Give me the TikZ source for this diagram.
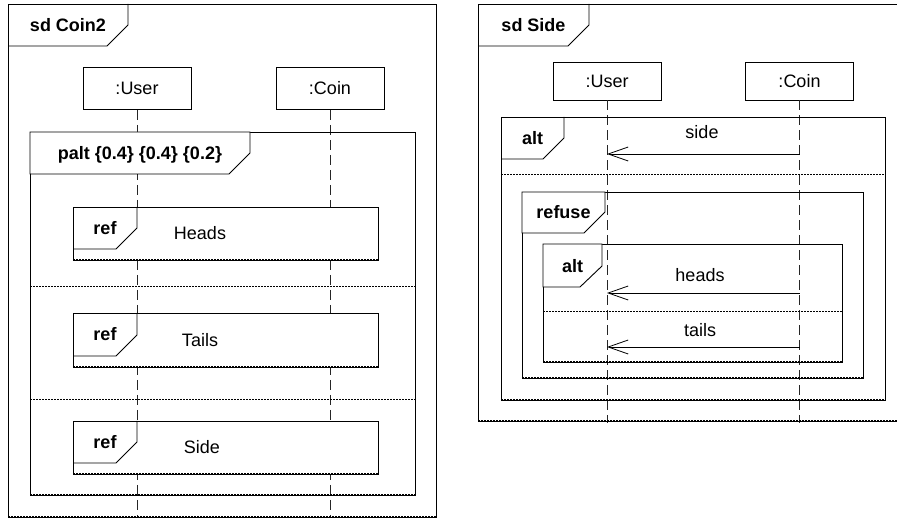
\documentclass[tikz,border=0pt]{standalone}
\usepackage{fontspec}
\setmainfont{Liberation Sans}
\usetikzlibrary{arrows.meta}

\tikzset{
  frameline/.style={draw=black, line width=0.9pt},
  bottomedge/.style={draw=black, line width=1.3pt, dash pattern=on 2pt off 1pt},
  headbox/.style={draw=black, fill=white, line width=0.9pt},
  lifeline/.style={draw=black!85, line width=0.9pt, dash pattern=on 10pt off 5pt},
  divider/.style={draw=black, line width=0.8pt, dash pattern=on 1.5pt off 1.5pt},
  txt/.style={inner sep=0pt, text height=12.9pt, text depth=0pt, font=\fontsize{18}{21}\selectfont},
  btxt/.style={txt, font=\fontsize{18}{21}\selectfont\bfseries},
  objbox/.style={draw=black, fill=white, line width=0.9pt, minimum width=108pt,
    minimum height=42pt, inner sep=0pt, text height=12.9pt, text depth=0pt,
    font=\fontsize{18}{21}\selectfont},
  msg/.style={draw=black, line width=0.8pt,
    -{Straight Barb[length=20pt,width=14pt,line width=0.8pt]}},
}

\begin{document}
\begin{tikzpicture}[x=1pt,y=-1pt]
\useasboundingbox (0,0) rectangle (897,518);
\clip (0,0) rectangle (897,518);

% ---------------- sd Coin2 ----------------
\node[objbox] (userA) at (137,88.5) {:User};
\node[objbox] (coinA) at (330,88.5) {:Coin};
\coordinate (userAend) at (137,520);
\coordinate (coinAend) at (330,520);
\draw[lifeline] (userA.south) -- (userAend);
\draw[lifeline] (coinA.south) -- (coinAend);

\draw[frameline] (8,4) rectangle (436,517);
\draw[bottomedge] (8,517) -- (436,517);
\draw[frameline] (8,46) -- (107,46) -- (128,25) -- (128,4);
\node[btxt] (sdA) at (68,25) {sd Coin2};

% palt fragment
\draw[frameline] (30,132) rectangle (415,495);
\draw[bottomedge] (30,495) -- (415,495);
\draw[headbox] (30,132) -- (250,132) -- (250,153) -- (229,174) -- (30,174) -- cycle;
\node[btxt] (paltA) at (140,153) {palt \{0.4\} \{0.4\} \{0.2\}};
\draw[divider] (30,286) -- (415,286);
\draw[divider] (30,399) -- (415,399);

% interaction uses
\draw[headbox] (73,207) rectangle (378,260);
\draw[bottomedge] (73,260) -- (378,260);
\draw[frameline] (137,207) -- (137,228) -- (116,249) -- (73,249);
\node[btxt] (refA) at (105,228) {ref};
\node[txt] (headsA) at (200,233.5) {Heads};

\draw[headbox] (73,313) rectangle (378,367);
\draw[bottomedge] (73,367) -- (378,367);
\draw[frameline] (137,313) -- (137,335) -- (116,356) -- (73,356);
\node[btxt] (refB) at (105,334) {ref};
\node[txt] (tailsA) at (200,340) {Tails};

\draw[headbox] (73,421) rectangle (378,474);
\draw[bottomedge] (73,474) -- (378,474);
\draw[frameline] (137,421) -- (137,442) -- (116,463) -- (73,463);
\node[btxt] (refC) at (105,442) {ref};
\node[txt] (sideA) at (202,447) {Side};

% ---------------- sd Side ----------------
\node[objbox, minimum height=38pt] (userB) at (607,81) {:User};
\node[objbox, minimum height=38pt] (coinB) at (799.5,81) {:Coin};
\coordinate (userBend) at (607,423);
\coordinate (coinBend) at (799.5,423);
\draw[lifeline] (userB.south) -- (userBend);
\draw[lifeline] (coinB.south) -- (coinBend);

\draw[frameline] (905,4) -- (478,4) -- (478,421) -- (905,421);
\draw[bottomedge] (478,421) -- (905,421);
\draw[frameline] (478,46) -- (568,46) -- (589,25) -- (589,4);
\node[btxt] (sdB) at (533.5,25) {sd Side};

% outer alt
\draw[frameline] (501,117) rectangle (885,400);
\draw[bottomedge] (501,400) -- (885,400);
\draw[frameline] (501,159) -- (543,159) -- (564,138) -- (564,117);
\node[btxt] (altB) at (532.5,138) {alt};
\draw[divider] (501,174) -- (885,174);

\coordinate (sideFrom) at (799.5,154);
\coordinate (sideTo) at (607,154);
\draw[msg] (sideFrom) -- (sideTo);
\node[txt] (sideLbl) at (702,132) {side};

% refuse
\draw[frameline] (522,192) rectangle (863,378);
\draw[bottomedge] (522,378) -- (863,378);
\draw[headbox] (522,192) -- (605,192) -- (605,212) -- (584,233) -- (522,233) -- cycle;
\node[btxt] (refuseB) at (563.5,212) {refuse};

% inner alt
\draw[frameline] (543,244) rectangle (842,362);
\draw[bottomedge] (543,362) -- (842,362);
\draw[headbox] (543,244) -- (602,244) -- (602,266) -- (580,287) -- (543,287) -- cycle;
\node[btxt] (altC) at (572.5,266) {alt};
\draw[divider] (543,311) -- (842,311);

\coordinate (headsFrom) at (799.5,293);
\coordinate (headsTo) at (607,293);
\draw[msg] (headsFrom) -- (headsTo);
\node[txt] (headsLbl) at (700,275.5) {heads};

\coordinate (tailsFrom) at (799.5,347);
\coordinate (tailsTo) at (607,347);
\draw[msg] (tailsFrom) -- (tailsTo);
\node[txt] (tailsLbl) at (700,330) {tails};
\end{tikzpicture}
\end{document}
